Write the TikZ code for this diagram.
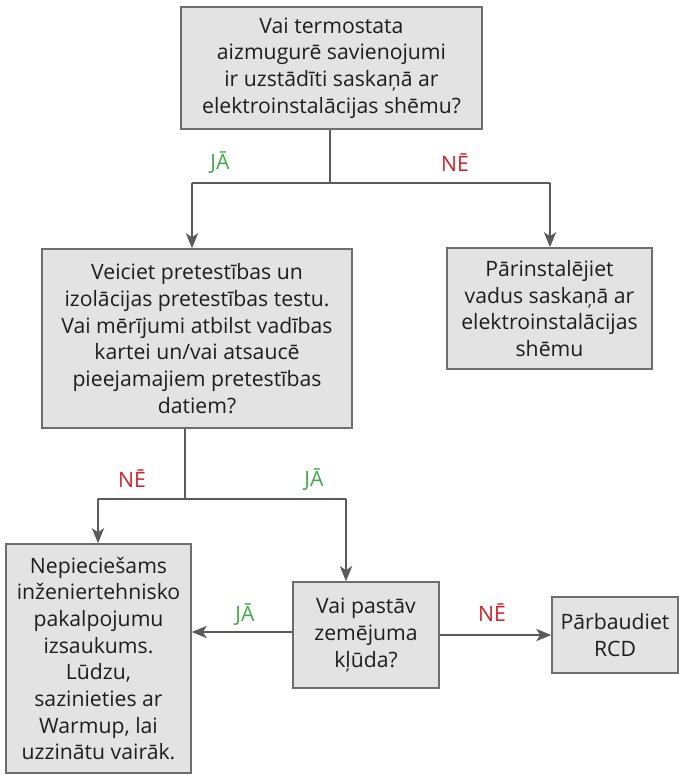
\documentclass[tikz,border=0pt]{standalone}
\usepackage{fontspec}
\setmainfont{Open Sans}
\usetikzlibrary{arrows.meta}
\definecolor{boxfill}{HTML}{E3E3E3}
\definecolor{boxdraw}{HTML}{6E6E6E}
\definecolor{linec}{HTML}{5A5A5A}
\definecolor{yesc}{HTML}{3FAA46}
\definecolor{noc}{HTML}{D4202B}
\definecolor{txt}{HTML}{1E1E1E}
\begin{document}
\begin{tikzpicture}[x=1pt,y=-1pt,
  every node/.style={font=\fontsize{21.2}{26.7}\selectfont, text=txt},
  box/.style={draw=boxdraw, line width=1.4pt, fill=boxfill, align=center, inner sep=0pt},
  conn/.style={draw=linec, line width=2.6pt},
  arr/.style={conn, -{Stealth[length=15pt,width=12pt,inset=4pt]}},
  yes/.style={text=yesc},
  no/.style={text=noc}]
\useasboundingbox (0,0) rectangle (678,775);
\node[box, minimum width=301pt, minimum height=122pt] (top) at (331.5,68) {Vai termostata\\aizmugurē savienojumi\\ir uzstādīti saskaņā ar\\elektroinstalācijas shēmu?};
\node[box, minimum width=310pt, minimum height=179pt] (b2) at (197,338.5) {Veiciet pretestības un\\izolācijas pretestības testu.\\Vai mērījumi atbilst vadības\\kartei un/vai atsaucē\\pieejamajiem pretestības\\datiem?};
\node[box, minimum width=205pt, minimum height=121pt] (b3) at (549.5,308.5) {Pārinstalējiet\\vadus saskaņā ar\\elektroinstalācijas\\shēmu};
\node[box, minimum width=185pt, minimum height=229pt] (b4) at (98.5,658.5) {Nepieciešams\\inženiertehnisko\\pakalpojumu\\izsaukums.\\Lūdzu,\\sazinieties ar\\Warmup, lai\\uzzinātu vairāk.};
\node[box, minimum width=146pt, minimum height=106pt] (b5) at (366,635) {Vai pastāv\\zemējuma\\kļūda?};
\node[box, minimum width=126pt, minimum height=76pt] (b6) at (615,635) {Pārbaudiet\\RCD};
\coordinate (j1) at (330,183);
\coordinate (j1l) at (192,183);
\coordinate (j1r) at (550,183);
\coordinate (j2) at (185,499);
\coordinate (j2l) at (98,499);
\coordinate (j2r) at (346,499);
\draw[conn] (top.south -| j1) -- (j1);
\draw[conn] (j1l) -- (j1r);
\draw[arr] (j1l) -- (j1l |- b2.north);
\draw[arr] (j1r) -- (j1r |- b3.north);
\draw[conn] (b2.south -| j2) -- (j2);
\draw[conn] (j2l) -- (j2r);
\draw[arr] (j2l) -- (j2l |- b4.north);
\draw[arr] (j2r) -- (j2r |- b5.north);
\draw[arr] ([yshift=3pt]b5.west) -- ([yshift=3pt]b5.west -| b4.east);
\draw[arr] (b5.east) -- (b6.west);
\node[yes] (l1) at (220,163) {JĀ};
\node[no] (l2) at (455,163) {NĒ};
\node[no] (l3) at (132,479) {NĒ};
\node[yes] (l4) at (314,480) {JĀ};
\node[yes] (l5) at (245,615) {JĀ};
\node[no] (l6) at (492,613) {NĒ};
\end{tikzpicture}
\end{document}
